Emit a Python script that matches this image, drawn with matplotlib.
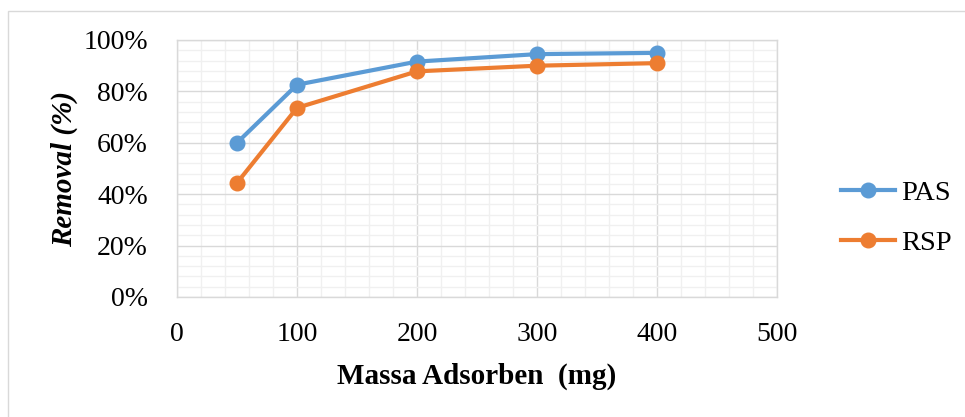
import matplotlib.pyplot as plt
from matplotlib.ticker import MultipleLocator, PercentFormatter
from matplotlib.lines import Line2D

# Adsorbent mass (mg) and removal efficiency (fraction)
massa = [50, 100, 200, 300, 400]
pas = [0.600, 0.826, 0.916, 0.945, 0.950]
rsp = [0.444, 0.736, 0.878, 0.900, 0.910]

blue = "#5B9BD5"
orange = "#ED7D31"

plt.rcParams["font.family"] = ["Liberation Serif", "DejaVu Serif"]

fig = plt.figure(figsize=(9.65, 4.17), dpi=100)
ax = fig.add_axes([177 / 965, 1 - 297 / 417, 600 / 965, 257 / 417])

ax.plot(massa, pas, color=blue, lw=3.0, marker="o", ms=10.5, label="PAS", zorder=4,
        solid_capstyle="round")
ax.plot(massa, rsp, color=orange, lw=3.0, marker="o", ms=10.5, label="RSP", zorder=4,
        solid_capstyle="round")

ax.set_xlim(0, 500)
ax.set_ylim(0, 1.0)
ax.xaxis.set_major_locator(MultipleLocator(100))
ax.xaxis.set_minor_locator(MultipleLocator(20))
ax.yaxis.set_major_locator(MultipleLocator(0.2))
ax.yaxis.set_minor_locator(MultipleLocator(0.04))
ax.yaxis.set_major_formatter(PercentFormatter(1.0, decimals=0))

ax.grid(which="major", color="#D9D9D9", lw=1.0, zorder=1)
ax.grid(which="minor", color="#F0F0F0", lw=1.0, zorder=0)
ax.set_axisbelow(True)
for s in ax.spines.values():
    s.set_color("#D9D9D9")
    s.set_linewidth(1.0)

ax.tick_params(which="both", length=0)
ax.tick_params(axis="y", labelsize=20, pad=21)
ax.tick_params(axis="x", labelsize=20, pad=18)

ax.set_xlabel("Massa Adsorben  (mg)", fontsize=21, fontweight="bold", labelpad=11)
ax.set_ylabel("Removal (%)", fontsize=21, fontweight="bold", style="italic", labelpad=4)

handles = [
    Line2D([], [], color=blue, lw=3.0, marker="o", ms=10.5),
    Line2D([], [], color=orange, lw=3.0, marker="o", ms=10.5),
]
fig.legend(handles, ["PAS", "RSP"], loc="center left", bbox_to_anchor=(827 / 965, 1 - 218 / 417),
           frameon=False, fontsize=20.5, handlelength=1.9, handletextpad=0.2,
           labelspacing=0.85, borderpad=0)

# outer chart frame
frame = plt.Rectangle((8 / 965, -0.1), 1.2, 1 - 10.5 / 417 + 0.1, transform=fig.transFigure,
                      fill=False, edgecolor="#D9D9D9", lw=1.0)
fig.add_artist(frame)

fig.savefig("out.png", dpi=100)
